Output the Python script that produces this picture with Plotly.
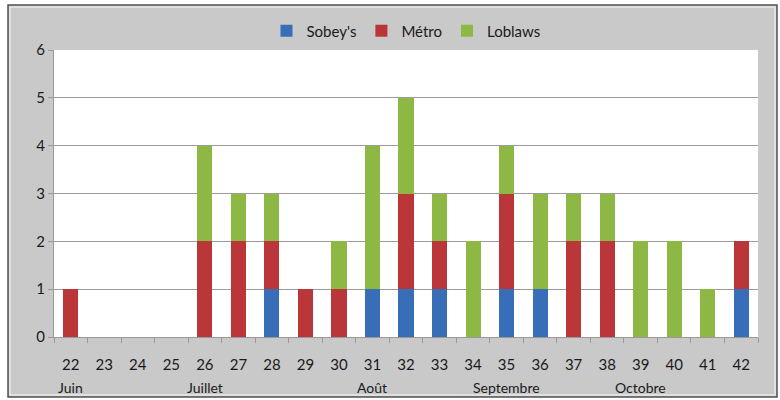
import plotly.graph_objects as go

weeks = [str(w) for w in range(22, 43)]
sobeys = [0, 0, 0, 0, 0, 0, 1, 0, 0, 1, 1, 1, 0, 1, 1, 0, 0, 0, 0, 0, 1]
metro = [1, 0, 0, 0, 2, 2, 1, 1, 1, 0, 2, 1, 0, 2, 0, 2, 2, 0, 0, 0, 1]
loblaws = [0, 0, 0, 0, 2, 1, 1, 0, 1, 3, 2, 1, 2, 1, 2, 1, 1, 2, 2, 1, 0]
months = ["Juin", "Juillet", "Août", "Septembre", "Octobre"]
month_week = ["22", "26", "31", "35", "39"]

FONT = "Lato, Calibri, Carlito, sans-serif"

fig = go.Figure()
for name, vals, col in [("Sobey's", sobeys, "#386db7"),
                        ("Métro", metro, "#bb3638"),
                        ("Loblaws", loblaws, "#8cb843")]:
    fig.add_trace(go.Bar(x=weeks, y=vals, name=name, width=0.45,
                         marker=dict(color=col, line=dict(width=0))))

L, R, T, B = 54, 22, 50, 63
W, H = 780, 400
pw, ph = W - L - R, H - T - B

def px(x):
    return (x - L) / pw

def py(y):
    return (H - B - y) / ph

shapes = [
    dict(type="rect", xref="paper", yref="paper", layer="below",
         x0=px(8), x1=px(777), y0=py(397), y1=py(5),
         fillcolor="#c9c9c9", line=dict(color="#505050", width=1.5)),
    dict(type="rect", xref="paper", yref="paper", layer="below",
         x0=px(10), x1=px(775), y0=py(395), y1=py(7),
         fillcolor="rgba(0,0,0,0)", line=dict(color="#e8e8e8", width=1.5)),
    dict(type="rect", xref="paper", yref="paper", layer="below",
         x0=0, x1=1, y0=0, y1=1, fillcolor="white", line=dict(width=0)),
]

annotations = [dict(x=weeks.index(w), y=py(387), xref="x", yref="paper", text=m,
                    showarrow=False, font=dict(size=14, color="#1a1a1a", family=FONT),
                    yanchor="middle")
               for m, w in zip(months, month_week)]

fig.update_layout(
    width=W, height=H, barmode="stack", bargap=0.5,
    margin=dict(l=L, r=R, t=T, b=B),
    paper_bgcolor="white", plot_bgcolor="rgba(0,0,0,0)",
    font=dict(family=FONT, size=14, color="#1a1a1a"),
    shapes=shapes, annotations=annotations,
    legend=dict(orientation="h", x=0.5, xanchor="center", y=py(31), yanchor="middle",
                bgcolor="rgba(0,0,0,0)", font=dict(size=15, family=FONT),
                traceorder="normal", itemwidth=30),
    showlegend=True,
)
fig.update_xaxes(type="category", categoryorder="array", categoryarray=weeks,
                 range=[-0.5, len(weeks) - 0.5], autorange=False,
                 showline=True, linecolor="#999999", linewidth=1,
                 ticks="outside", tickson="boundaries", ticklen=5, tickcolor="#999999",
                 ticklabelstandoff=14, tickangle=0, showgrid=False,
                 tickfont=dict(size=15, family=FONT))
fig.update_yaxes(range=[0, 6], dtick=1, showgrid=True, gridcolor="#9c9c9c", gridwidth=1,
                 showline=True, linecolor="#999999", linewidth=1,
                 ticks="outside", ticklen=5, tickcolor="#999999",
                 zeroline=False, tickfont=dict(size=15, family=FONT))

fig.write_html("out.html", config={"displayModeBar": False},
               post_script="document.body.style.margin='0';document.body.style.padding='0';")
